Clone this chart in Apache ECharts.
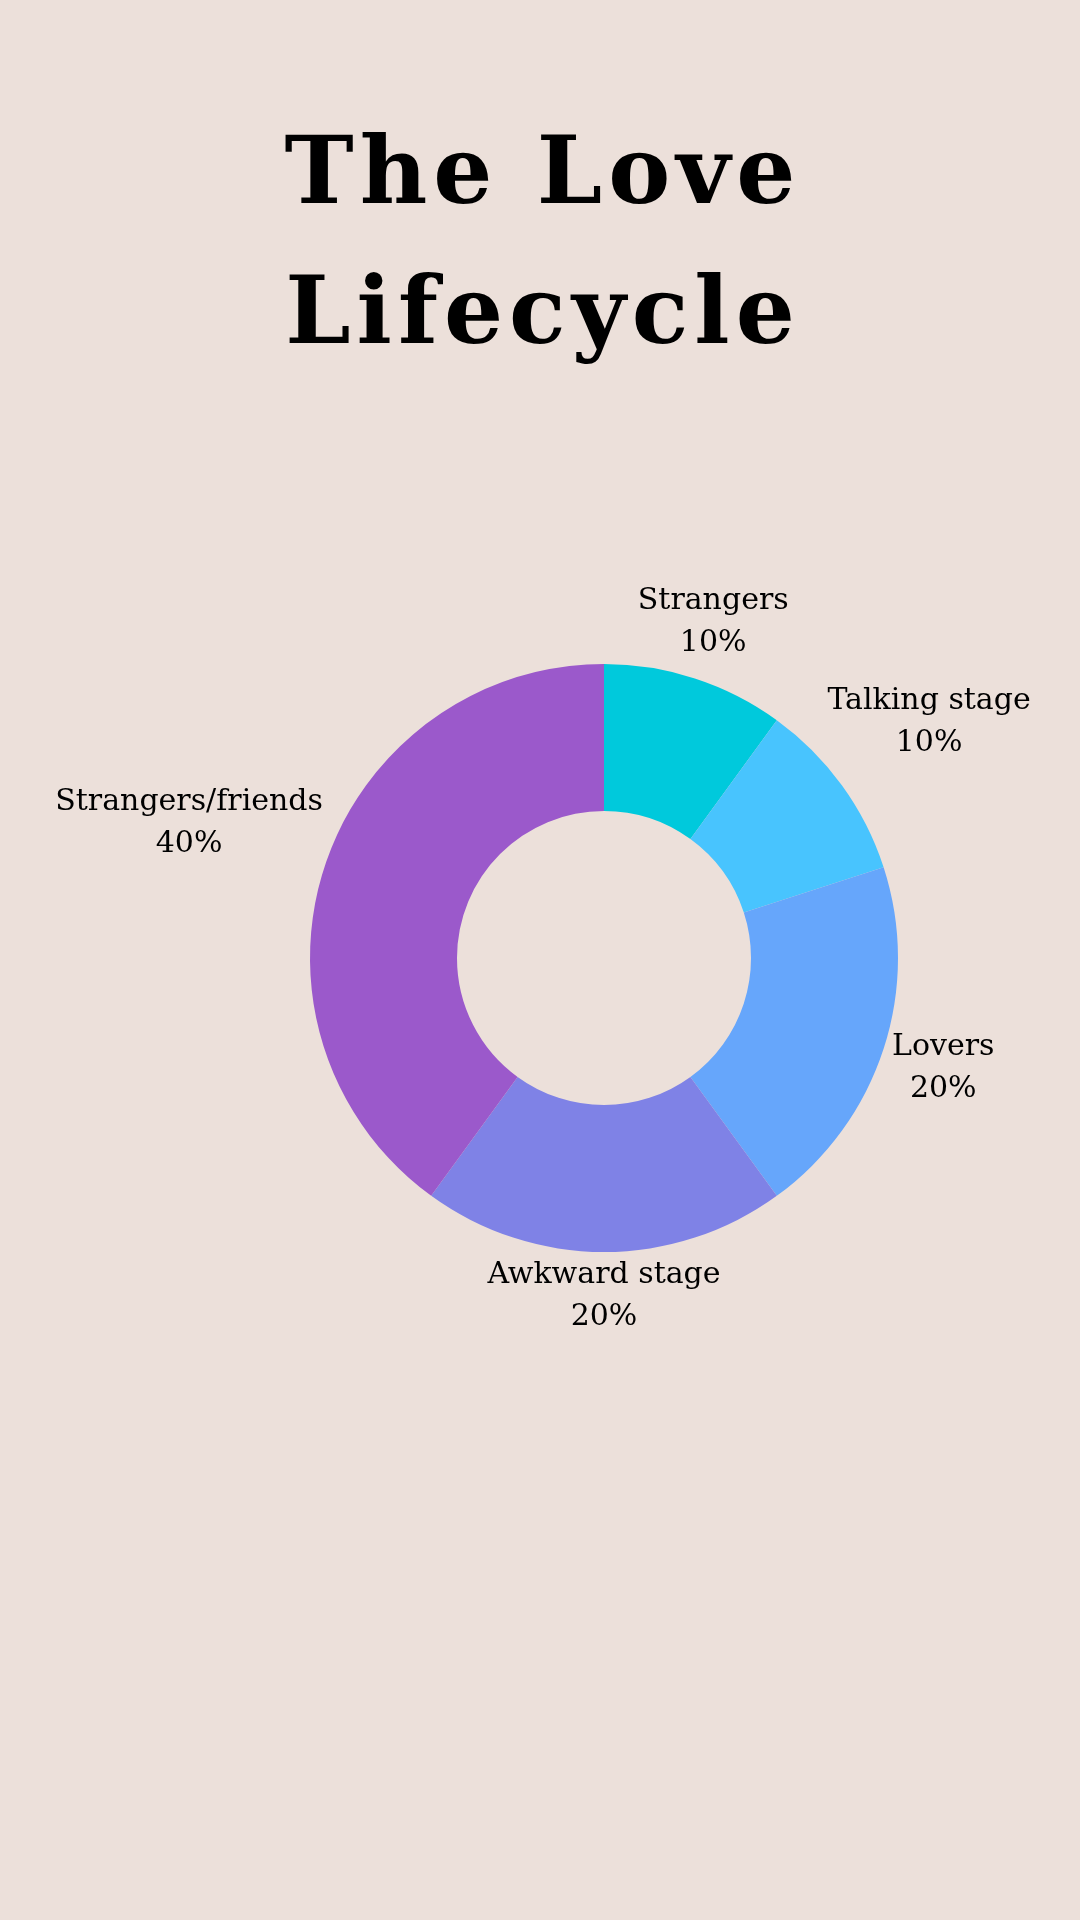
<!DOCTYPE html>
<html>
<head>
<meta charset="utf-8">
<script src="https://cdn.jsdelivr.net/npm/echarts@6/dist/echarts.min.js"></script>
<style>
  html, body { margin: 0; padding: 0; background: #ECE0DA; }
  #chart { width: 1080px; height: 1920px; }
</style>
</head>
<body>
<div id="chart"></div>
<script>
const titleLines = ['The Love', 'Lifecycle'];
const categories = ['Strangers', 'Talking stage', 'Lovers', 'Awkward stage', 'Strangers/friends'];
const values = [10, 10, 20, 20, 40];
const colors = ['#00C9DC', '#48C4FE', '#66A6FB', '#7F82E6', '#9B59CB'];

const CX = 604, CY = 958, R_OUT = 294, R_IN = 147;
const LABEL_GAP = 296; // distance from centre to nearest point of label box
const LETTER_SP = 6;

const total = values.reduce((a, b) => a + b, 0);
function midAngle(i) {
  let before = 0;
  for (let k = 0; k < i; k++) before += values[k];
  return ((before + values[i] / 2) / total) * Math.PI * 2; // clockwise from top
}
function boxDist(cx, cy, hw, hh) {
  const dx = Math.max(Math.abs(cx) - hw, 0);
  const dy = Math.max(Math.abs(cy) - hh, 0);
  return Math.sqrt(dx * dx + dy * dy);
}
// letter-spaced title built from rich tokens
function spaced(line) {
  const chars = Array.from(line);
  return chars.map((c, i) => '{' + (i === chars.length - 1 ? 'e' : 'c') + '|' + c + '}').join('');
}
const titleFont = {
  fontFamily: 'DejaVu Serif',
  fontWeight: 'bold',
  fontSize: 93,
  lineHeight: 140,
  color: '#000000'
};

const chart = echarts.init(document.getElementById('chart'), null, { renderer: 'canvas' });
chart.setOption({
  backgroundColor: '#ECE0DA',
  animation: false,
  title: {
    text: titleLines.map(spaced).join('\n'),
    left: 'center',
    top: 104,
    textStyle: Object.assign({}, titleFont, {
      rich: {
        c: Object.assign({}, titleFont, { padding: [0, LETTER_SP, 0, 0] }),
        e: Object.assign({}, titleFont)
      }
    })
  },
  series: [{
    type: 'pie',
    center: [CX, CY],
    radius: [R_IN, R_OUT],
    startAngle: 90,
    clockwise: true,
    avoidLabelOverlap: false,
    data: categories.map((name, i) => ({ name, value: values[i], itemStyle: { color: colors[i] } })),
    label: {
      show: true,
      position: 'outside',
      formatter: p => p.name + '\n' + p.value + '%',
      fontFamily: 'DejaVu Serif',
      fontSize: 30,
      lineHeight: 42,
      color: '#000000',
      align: 'center'
    },
    labelLine: { show: false },
    labelLayout: function (params) {
      const a = midAngle(params.dataIndex);
      const ux = Math.sin(a), uy = -Math.cos(a);
      const hw = params.labelRect.width / 2, hh = params.labelRect.height / 2;
      let lo = 0, hi = 1200;
      for (let it = 0; it < 60; it++) {
        const t = (lo + hi) / 2;
        if (boxDist(t * ux, t * uy, hw, hh) < LABEL_GAP) lo = t; else hi = t;
      }
      const t = (lo + hi) / 2;
      return {
        x: CX + t * ux,
        y: CY + t * uy,
        align: 'center',
        verticalAlign: 'middle'
      };
    }
  }]
});
</script>
</body>
</html>
